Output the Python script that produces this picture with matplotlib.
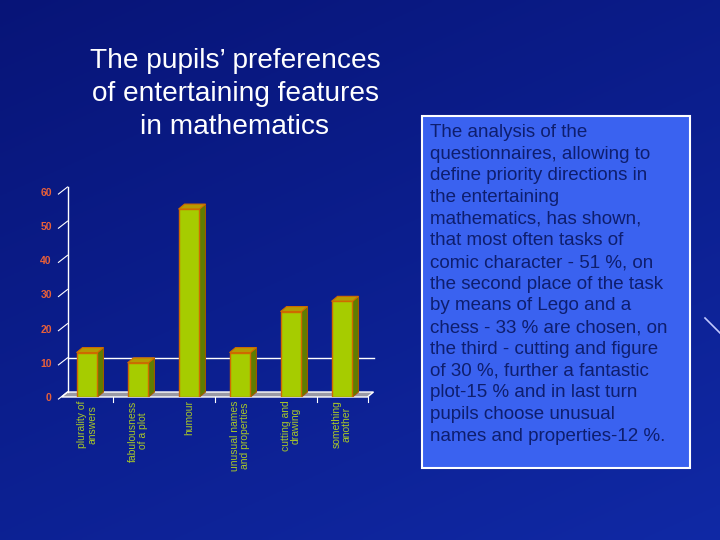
import numpy as np
import matplotlib
matplotlib.use("Agg")
import matplotlib.pyplot as plt
from matplotlib.patches import Polygon, Rectangle

categories = ["plurality of\nanswers", "fabulousness\nof a plot", "humour",
              "unusual names\nand properties", "cutting and\ndrawing", "something\nanother"]
values = [13, 10, 55, 13, 25, 28]
yticks = [0, 10, 20, 30, 40, 50, 60]

title = "The pupils\u2019 preferences\nof entertaining features\nin mathematics"
note = ("The analysis of the\nquestionnaires, allowing to\ndefine priority directions in\n"
        "the entertaining\nmathematics, has shown,\nthat most often tasks of\n"
        "comic character - 51 %, on\nthe second place of the task\nby means of Lego and a\n"
        "chess - 33 % are chosen, on\nthe third - cutting and figure\nof 30 %, further a fantastic\n"
        "plot-15 % and in last turn\npupils choose unusual\nnames and properties-12 %.")

W, H = 720, 540
fig = plt.figure(figsize=(7.2, 5.4), dpi=100)

# background gradient
bg = fig.add_axes([0, 0, 1, 1])
yy, xx = np.mgrid[0:1:200j, 0:1:200j]
base = np.zeros((200, 200, 3))
t = 0.5 * (1 - yy) + 0.3 * xx
base[..., 0] = 0.03 + 0.04 * t
base[..., 1] = 0.08 + 0.10 * t
base[..., 2] = 0.47 + 0.22 * t
bg.imshow(base, extent=[0, 1, 0, 1], aspect="auto", origin="lower")
bg.set_xlim(0, 1); bg.set_ylim(0, 1); bg.axis("off")
bg.plot([705/W, 720/W], [1-318/H, 1-333/H], color="#c0c8ff", lw=1.2)

# chart axes
left, right, y0, y60 = 61.5, 367.5, 397, 192
ax = fig.add_axes([left/W, (H-y0)/H, (right-left)/W, (y0-y60)/H])
ax.set_facecolor("none")
ax.set_xlim(-0.5, 5.5)
ax.set_ylim(0, 60)
for s in ax.spines.values():
    s.set_visible(False)
ax.set_xticks([])
ax.set_yticks(yticks)
ax.set_yticklabels([str(v) for v in yticks], color="#e8603a", fontsize=7.5,
                   fontweight="bold", family="Liberation Sans")
ax.tick_params(axis="y", length=0, pad=7)

pxx = 6.0 / ((right - left) / 6.0)   # depth offset in data units (x)
pxy = 5.0 / ((y0 - y60) / 60.0)      # depth offset in data units (y)

# floor
floor = Polygon([(-0.5, 0), (5.5, 0), (5.5 + pxx, pxy), (-0.5 + pxx, pxy)],
                closed=True, facecolor="#9a9aa6", edgecolor="white", lw=1, clip_on=False, zorder=1)
ax.add_patch(floor)
# back axis line
ax.plot([-0.5 + pxx, -0.5 + pxx], [pxy, 60 + pxy], color="white", lw=1, clip_on=False, zorder=1)
# grid line at 10
ax.plot([-0.5 + pxx, 5.5 + pxx], [10 + pxy, 10 + pxy], color="white", lw=1, clip_on=False, zorder=1)
# diagonal tick marks
for v in yticks:
    ax.plot([-0.5 - 0.06, -0.5 + pxx], [v - 0.6, v + pxy], color="white", lw=0.8, clip_on=False, zorder=1)
# floor ticks
for xb in [0.5, 2.5, 4.5, 5.5]:
    ax.plot([xb, xb], [0, -1.6], color="white", lw=0.8, clip_on=False, zorder=1)

# bars
bw = 0.41
xs = np.arange(len(values))
ax.bar(xs, values, width=bw, color="#a6cc00", edgecolor="#d06a00", lw=1, zorder=3)
for x, v in zip(xs, values):
    xr = x + bw / 2
    xl = x - bw / 2
    side = Polygon([(xr, 0), (xr + pxx, pxy), (xr + pxx, v + pxy), (xr, v)],
                   closed=True, facecolor="#5f7d00", edgecolor="#a05a00", lw=0.8, zorder=2)
    top = Polygon([(xl, v), (xr, v), (xr + pxx, v + pxy), (xl + pxx, v + pxy)],
                  closed=True, facecolor="#b89a00", edgecolor="#d06a00", lw=0.8, zorder=2)
    ax.add_patch(side)
    ax.add_patch(top)

# category labels
for x, c in zip(xs, categories):
    ax.text(x, -1.0, c, rotation=90, ha="center", va="top", color="#a8c828",
            fontsize=7.5, family="Liberation Sans", linespacing=1.0, multialignment="center")

# title
fig.text(235/W, 1 - 94/H, title, ha="center", va="center", color="white",
         fontsize=20.2, family="Liberation Sans", linespacing=1.33)

# note box
bx0, by0, bx1, by1 = 422, 116, 690, 468
fig.patches.append(Rectangle((bx0/W, 1 - by1/H), (bx1 - bx0)/W, (by1 - by0)/H,
                             transform=fig.transFigure, facecolor="#3a62f0",
                             edgecolor="white", lw=1.5, zorder=2))
fig.text(430/W, 1 - 124/H, note, ha="left", va="top", color="#0e1e6e",
         fontsize=13.5, family="Liberation Sans", linespacing=1.36, zorder=3)

fig.savefig("out.png", dpi=100)
